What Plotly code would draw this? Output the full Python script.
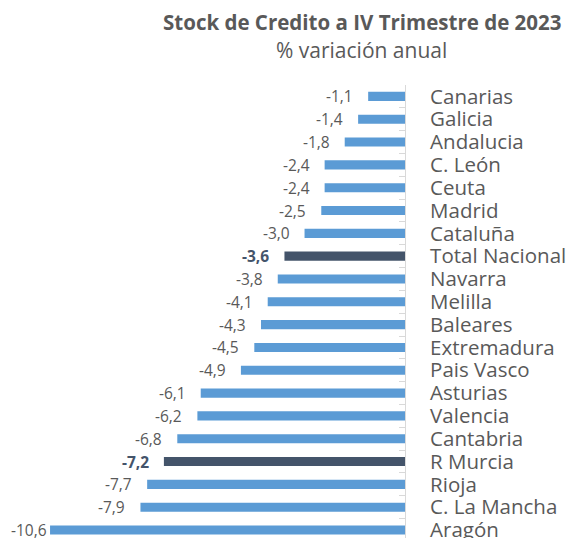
import plotly.graph_objects as go

regions = ["Canarias", "Galicia", "Andalucia", "C. León", "Ceuta", "Madrid", "Cataluña",
           "Total Nacional", "Navarra", "Melilla", "Baleares", "Extremadura", "Pais Vasco",
           "Asturias", "Valencia", "Cantabria", "R Murcia", "Rioja", "C. La Mancha", "Aragón"]
values = [-1.1, -1.4, -1.8, -2.4, -2.4, -2.5, -3.0, -3.6, -3.8, -4.1, -4.3, -4.5, -4.9,
          -6.1, -6.2, -6.8, -7.2, -7.7, -7.9, -10.6]
highlight = ["Total Nacional", "R Murcia"]
title_text = "Stock de Credito a IV Trimestre de 2023"
subtitle_text = "% variación anual"

LIGHT = "#5b9bd5"
DARK = "#44546a"
GREY = "#595959"
FONT = "Open Sans"

colors = [DARK if r in highlight else LIGHT for r in regions]

fig = go.Figure()
fig.add_trace(go.Bar(
    x=values, y=regions, orientation="h",
    marker=dict(color=colors, line=dict(width=0)),
    hoverinfo="skip",
))

vmin = min(values)
for r, v in zip(regions, values):
    s = f"{v:.1f}".replace(".", ",")
    if r in highlight:
        s = f"<b>{s}</b>"
    # the longest bar's label is pushed against the bar (it would leave the chart otherwise)
    shift = -1 if v == vmin else -13
    fig.add_annotation(x=v, y=r, text=s, showarrow=False, xanchor="right",
                       xshift=shift, font=dict(family=FONT, size=15.5,
                                               color=DARK if r in highlight else GREY))

fig.add_annotation(xref="paper", yref="paper", x=0.882, y=1.139, text=f"<b>{title_text}</b>",
                   showarrow=False, xanchor="center", yanchor="middle",
                   font=dict(family=FONT, size=20.5, color=GREY))
fig.add_annotation(xref="paper", yref="paper", x=0.882, y=1.077, text=subtitle_text,
                   showarrow=False, xanchor="center", yanchor="middle",
                   font=dict(family=FONT, size=21, color=GREY))

fig.update_layout(
    width=569, height=538,
    margin=dict(l=40, r=164, t=85, b=0, autoexpand=False),
    paper_bgcolor="white", plot_bgcolor="white",
    showlegend=False,
    bargap=0.6,
)
fig.update_xaxes(range=[-10.9, 0], visible=False, fixedrange=True, automargin=False)
fig.update_yaxes(
    type="category", categoryorder="array", categoryarray=regions,
    range=[19.35, -0.5], side="right", automargin=False,
    tickmode="linear", dtick=1, tick0=0,
    showline=True, linecolor="#d9d9d9", linewidth=1,
    ticks="inside", tickson="boundaries", ticklen=6, tickcolor="#d9d9d9",
    ticklabelstandoff=20,
    tickfont=dict(family=FONT, size=20.5, color=GREY),
    showgrid=False, fixedrange=True,
)

fig.write_html("out.html", config={"displayModeBar": False},
               post_script="document.body.style.margin='0';document.body.style.overflow='hidden';")
